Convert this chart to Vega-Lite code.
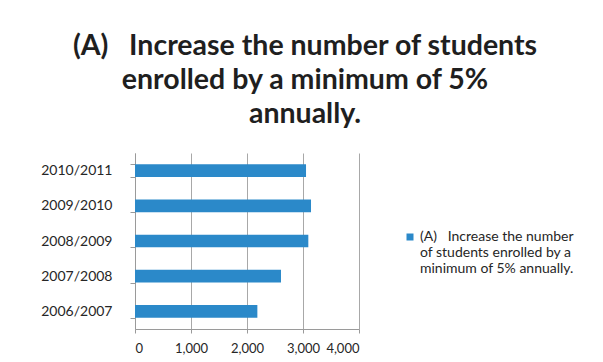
{
  "$schema": "https://vega.github.io/schema/vega-lite/v6.json",
  "width": 224,
  "height": 176,
  "autosize": {"type": "none"},
  "padding": {"left": 135, "top": 153, "right": 244, "bottom": 33},
  "background": "white",
  "title": {
    "text": ["(A)\u00a0\u00a0 Increase the number of students", "enrolled by a minimum of 5%", "annually."],
    "font": "Lato",
    "fontSize": 28.5,
    "fontWeight": "bold",
    "color": "#1f1f1f",
    "lineHeight": 34,
    "anchor": "middle",
    "frame": "group",
    "dx": 58,
    "offset": 18
  },
  "data": {
    "values": [
      {"year": "2006/2007", "students": 2185, "series": "A"},
      {"year": "2007/2008", "students": 2607, "series": "A"},
      {"year": "2008/2009", "students": 3095, "series": "A"},
      {"year": "2009/2010", "students": 3143, "series": "A"},
      {"year": "2010/2011", "students": 3054, "series": "A"}
    ]
  },
  "mark": {"type": "bar", "color": "#2b89c9"},
  "encoding": {
    "y": {
      "field": "year",
      "type": "nominal",
      "sort": ["2010/2011", "2009/2010", "2008/2009", "2007/2008", "2006/2007"],
      "scale": {"paddingInner": 0.64, "paddingOuter": 0.32},
      "axis": {
        "title": null,
        "tickBand": "extent",
        "domainColor": "#9a9a9a",
        "tickColor": "#9a9a9a",
        "tickSize": 5,
        "labelPadding": 18,
        "labelFont": "Lato",
        "labelFontSize": 14,
        "labelColor": "#262626",
        "grid": false
      }
    },
    "x": {
      "field": "students",
      "type": "quantitative",
      "scale": {"domain": [0, 4000], "nice": false},
      "axis": {
        "title": null,
        "values": [0, 1000, 2000, 3000, 4000],
        "format": ",d",
        "grid": true,
        "gridColor": "#a8a8a8",
        "domainColor": "#9a9a9a",
        "tickColor": "#9a9a9a",
        "tickSize": 4,
        "labelPadding": 9,
        "labelFont": "Lato",
        "labelFontSize": 13,
        "labelColor": "#262626",
        "labelOverlap": false
      }
    },
    "color": {
      "field": "series",
      "type": "nominal",
      "scale": {"range": ["#2b89c9"]},
      "legend": {
        "title": null,
        "orient": "none",
        "legendX": 268,
        "legendY": 77,
        "padding": 0,
        "symbolType": "square",
        "symbolSize": 49,
        "symbolStrokeWidth": 0,
        "labelOffset": 3,
        "labelFont": "Lato",
        "labelFontSize": 14,
        "labelColor": "#262626",
        "labelLimit": 300,
        "labelBaseline": "top",
        "labelExpr": "['(A)\u00a0\u00a0 Increase the number', 'of students enrolled by a', 'minimum of 5% annually.']",
        "labelLineHeight": 19,
        "encode": {"labels": {"update": {"dy": {"value": -7.5}}}}
      }
    }
  },
  "config": {
    "view": {"stroke": null}
  }
}
